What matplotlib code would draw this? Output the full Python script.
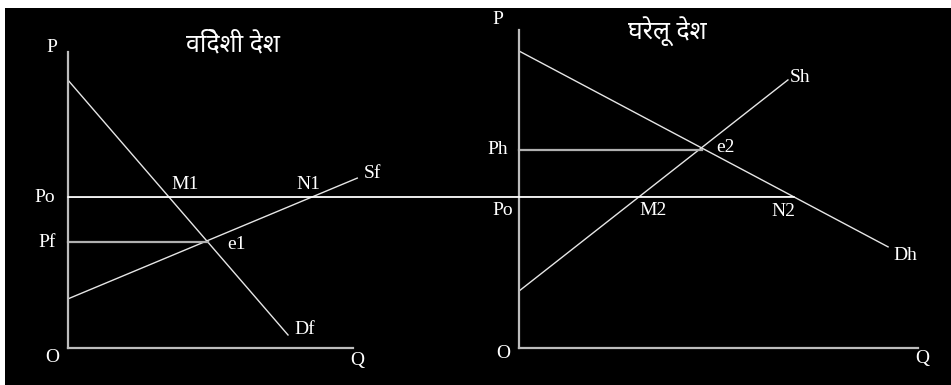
import matplotlib
matplotlib.use("Agg")
from matplotlib import pyplot as plt
from matplotlib.patches import Rectangle, ConnectionPatch

# बायाँ पैनल: विदेशी देश (foreign)
df_x = [0, 7.72]
df_y = [9.05, 0.44]
sf_x = [0, 10.15]
sf_y = [1.66, 5.74]
po_f = 5.10
pf = 3.58
e1_x = 4.9

# दायाँ पैनल: घरेलू देश (home)
dh_x = [0, 9.25]
dh_y = [9.34, 3.18]
sh_x = [0, 6.74]
sh_y = [1.79, 8.43]
po_h = 4.75
ph = 6.23
e2_x = 4.59

titles = ["विदेशी देश", "घरेलू देश"]

W, H = 951, 385
fig = plt.figure(figsize=(W / 100, H / 100), dpi=100)
fig.patch.set_facecolor("white")
# काला पृष्ठभूमि
fig.patches.append(Rectangle((5 / W, 0), 946 / W, 377 / H, transform=fig.transFigure,
                             facecolor="black", edgecolor="none", zorder=-10))

serif = ["Liberation Serif", "DejaVu Serif"]
hindi = ["Noto Sans Devanagari", "Noto Serif Devanagari", "Lohit Devanagari", "FreeSerif",
         "Noto Sans", "DejaVu Sans"]

def make_ax(x0, y0, x1, y1):
    ax = fig.add_axes([x0 / W, (H - y0) / H, (x1 - x0) / W, (y0 - y1) / H])
    ax.set_xlim(0, 10)
    ax.set_ylim(0, 10)
    ax.patch.set_alpha(0)
    for s in ["top", "right"]:
        ax.spines[s].set_visible(False)
    for s in ["left", "bottom"]:
        ax.spines[s].set_color("#bdbdbd")
        ax.spines[s].set_linewidth(1.6)
    ax.set_xticks([])
    ax.set_yticks([])
    return ax

def lab(ax, s, xy, off, **kw):
    ax.annotate(s, xy=xy, xytext=off, textcoords="offset pixels", ha="center", va="center",
                color="white", fontsize=14, family=serif, annotation_clip=False, **kw)

line_kw = dict(color="#e6e6e6", lw=1.0, clip_on=False)

# left
ax1 = make_ax(68, 348, 353, 52)
ax1.plot(df_x, df_y, **line_kw)
ax1.plot(sf_x, sf_y, **line_kw)
ax1.plot([0, e1_x], [pf, pf], color="#b0b0b0", lw=1.6, clip_on=False)
m1_x = (df_y[0] - po_f) / ((df_y[0] - df_y[1]) / df_x[1])
n1_x = (po_f - sf_y[0]) / ((sf_y[1] - sf_y[0]) / sf_x[1])
ax1.text(0.579, 1.024, titles[0], transform=ax1.transAxes, ha="center", va="center",
         color="white", fontsize=18, family=hindi)
lab(ax1, "P", (0, 10), (-16, 5))
lab(ax1, "O", (0, 0), (-16, -10))
lab(ax1, "Q", (10, 0), (4, -13))
lab(ax1, "Po", (0, po_f), (-23, 0))
lab(ax1, "Pf", (0, pf), (-21, 0))
lab(ax1, "M1", (m1_x, po_f), (16, 13))
lab(ax1, "N1", (n1_x, po_f), (-4, 13))
lab(ax1, "e1", (e1_x, pf), (29, -2))
lab(ax1, "Df", (df_x[1], df_y[1]), (17, 5))
lab(ax1, "Sf", (sf_x[1], sf_y[1]), (15, 5))

# right
ax2 = make_ax(519, 348, 918, 30)
ax2.plot(dh_x, dh_y, **line_kw)
ax2.plot(sh_x, sh_y, **line_kw)
ax2.plot([0, e2_x], [ph, ph], color="#b0b0b0", lw=1.6, clip_on=False)
n2_x = (dh_y[0] - po_h) / ((dh_y[0] - dh_y[1]) / dh_x[1])
m2_x = (po_h - sh_y[0]) / ((sh_y[1] - sh_y[0]) / sh_x[1])
ax2.text(0.371, 0.997, titles[1], transform=ax2.transAxes, ha="center", va="center",
         color="white", fontsize=18, family=hindi)
lab(ax2, "P", (0, 10), (-21, 10))
lab(ax2, "O", (0, 0), (-16, -5))
lab(ax2, "Q", (10, 0), (4, -10))
lab(ax2, "Ph", (0, ph), (-21, 0))
lab(ax2, "Po", (0, po_h), (-16, -14))
lab(ax2, "M2", (m2_x, po_h), (14, -14))
lab(ax2, "N2", (n2_x, po_h), (-11, -15))
lab(ax2, "e2", (e2_x, ph), (23, 2))
lab(ax2, "Sh", (sh_x[1], sh_y[1]), (12, 2))
lab(ax2, "Dh", (dh_x[1], dh_y[1]), (17, -9))

# Po विश्व मूल्य रेखा दोनों पैनलों में
con = ConnectionPatch(xyA=(0, po_f), coordsA=ax1.transData, xyB=(n2_x, po_h), coordsB=ax2.transData,
                      color="white", lw=1.3)
fig.add_artist(con)

fig.savefig("out.png", dpi=100, facecolor=fig.get_facecolor())
